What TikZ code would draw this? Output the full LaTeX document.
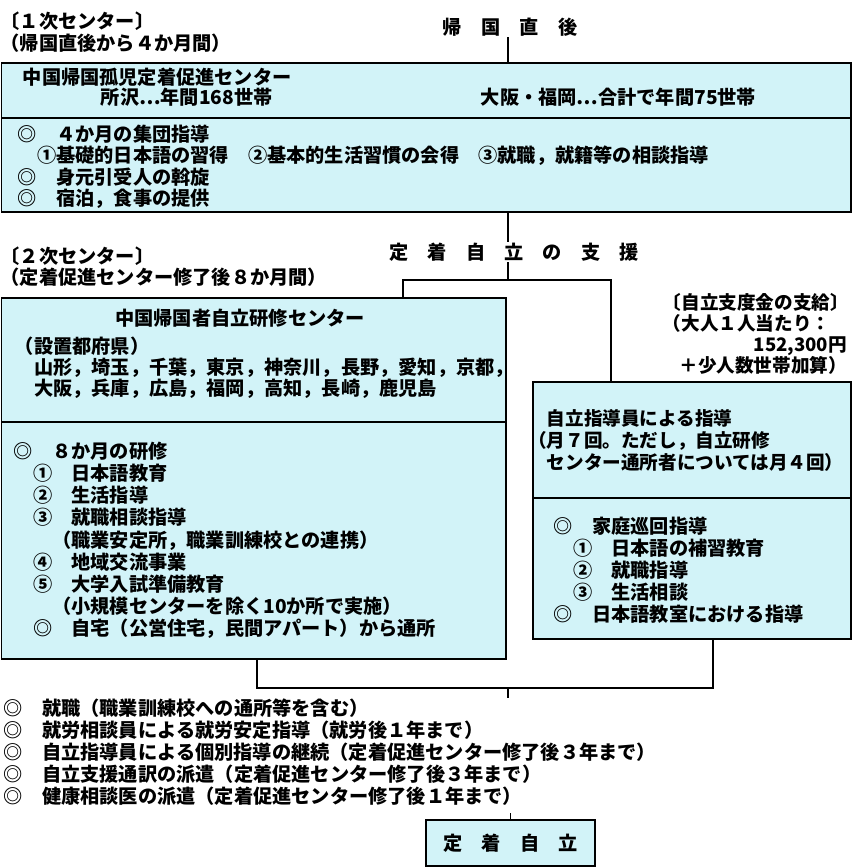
\documentclass[tikz,border=0pt]{standalone}
\usepackage{fontspec}
\setmainfont{Noto Sans CJK JP}
\definecolor{boxfill}{RGB}{210,243,248}

\begin{document}
\begin{tikzpicture}[x=1pt, y=-1pt,
    line width=1.6pt,
    panel/.style = {draw, fill=boxfill,
                    inner sep=0pt, outer sep=0pt,
                    anchor=north west},
    txt/.style = {inner sep=0pt, align=left,
                  font={\fontsize{19.2}{#1}\selectfont\bfseries}},
    txt/.default = 22,
    narrow/.style = {font={\fontsize{18.6}{#1}\selectfont\bfseries}}
                    ]
    \useasboundingbox (0,0) rectangle (853,868);

    % panels
    \node (ctr1) [panel, minimum width=849.5, minimum height=149] at (1.5,63) {};
    \draw ([yshift=-55pt]ctr1.north west) -- ([yshift=-55pt]ctr1.north east);
    \node (ctr2) [panel, minimum width=504.5, minimum height=361] at (1.5,298) {};
    \draw ([yshift=-124pt]ctr2.north west) -- ([yshift=-124pt]ctr2.north east);
    \node (ctr3) [panel, minimum width=318, minimum height=257] at (533,382) {};
    \draw ([yshift=-116pt]ctr3.north west) -- ([yshift=-116pt]ctr3.north east);

    % first centre
    \node (first) [txt=22, anchor=north west] at (0,11) {〔１次センター〕\\（帰国直後から４か月間）};
    \node (ret) [txt] at (510,27) {帰　国　直　後};
    \node (name1) [txt, anchor=west] at (22,77) {中国帰国孤児定着促進センター};
    \node (tokorozawa) [txt, anchor=west] at (100,97) {所沢⋯年間168世帯};
    \node (osaka) [txt, anchor=west] at (480,97) {大阪・福岡⋯合計で年間75世帯};
    \node (group) [txt=21.5, anchor=north west] at (17,124) {◎　４か月の集団指導\\
        　①基礎的日本語の習得　②基本的生活習慣の会得　③就職，就籍等の相談指導\\
        ◎　身元引受人の斡旋\\
        ◎　宿泊，食事の提供};

    % second centre
    \node (second) [txt=21, anchor=north west] at (0,246) {〔２次センター〕\\（定着促進センター修了後８か月間）};
    \node (support) [txt] at (514,252) {定　着　自　立　の　支　援};
    \node (name2) [txt] at (240,318) {中国帰国者自立研修センター};
    \node (prefs) [txt=21, anchor=north west] at (14,336) {（設置都府県）\\
        　山形，埼玉，千葉，東京，神奈川，長野，愛知，京都，\\
        　大阪，兵庫，広島，福岡，高知，長崎，鹿児島};
    \node (training) [txt=22.2, anchor=north west] at (13,441) {◎　８か月の研修\\
        　①　日本語教育\\
        　②　生活指導\\
        　③　就職相談指導\\
        　　（職業安定所，職業訓練校との連携）\\
        　④　地域交流事業\\
        　⑤　大学入試準備教育\\
        　　（小規模センターを除く10か所で実施）\\
        　◎　自宅（公営住宅，民間アパート）から通所};

    % guidance
    \node (allowance) [txt, narrow=21, anchor=north west, text width=184] at (662,293) {〔自立支度金の支給〕\\
        （大人１人当たり：\\
        \hfill 152,300円\\
        \hfill ＋少人数世帯加算）};
    \node (guide) [txt, narrow=22, anchor=north west] at (546,409) {自立指導員による指導\\
        \llap{（}月７回。ただし，自立研修\\
        センター通所者については月４回）};
    \node (visits) [txt=22, anchor=north west] at (553,516) {◎　家庭巡回指導\\
        　①　日本語の補習教育\\
        　②　就職指導\\
        　③　生活相談\\
        ◎　日本語教室における指導};

    % afterwards
    \node (after) [txt=22, anchor=north west] at (3,698) {◎　就職（職業訓練校への通所等を含む）\\
        ◎　就労相談員による就労安定指導（就労後１年まで）\\
        ◎　自立指導員による個別指導の継続（定着促進センター修了後３年まで）\\
        ◎　自立支援通訳の派遣（定着促進センター修了後３年まで）\\
        ◎　健康相談医の派遣（定着促進センター修了後１年まで）};
    \node (goal) [panel, txt, anchor=center, minimum width=169, minimum height=46] at (510.5,843) {定　着　自　立};

    % connectors
    \coordinate (fork) at (508,280);
    \coordinate (forkL) at (403,280);
    \coordinate (forkR) at (611,280);
    \coordinate (join) at (508,688);
    \coordinate (joinL) at (257,688);
    \coordinate (joinR) at (713,688);

    \draw (ret.south -| fork) -- (ctr1.north -| fork);
    \draw (ctr1.south -| fork) -- (support.north -| fork);
    \draw (support.south -| fork) -- (fork);
    \draw (ctr2.north -| forkL) -- (forkL) -- (forkR) -- (ctr3.north -| forkR);
    \draw (ctr2.south -| joinL) -- (joinL) -- (joinR) -- (ctr3.south -| joinR);
    \draw (join) -- (after.north -| join);
    \draw (goal.north) -- ++(0,-7);
\end{tikzpicture}
\end{document}
